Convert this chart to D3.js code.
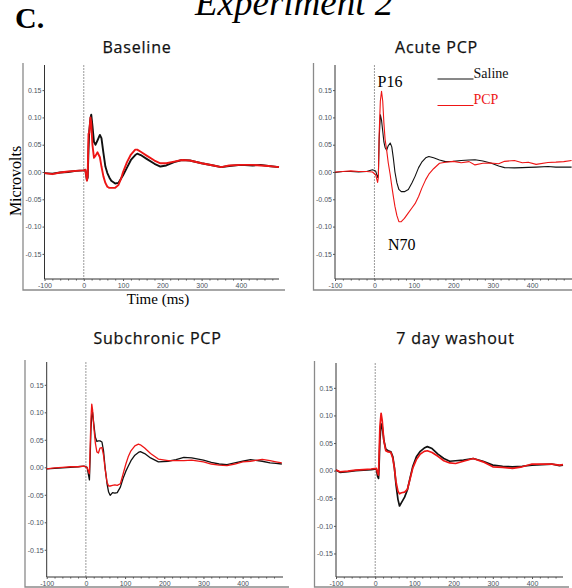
<!DOCTYPE html>
<html>
<head>
<meta charset="utf-8">
<style>
  body { margin: 0; background: #fff; }
  svg { display: block; }
</style>
</head>
<body>
<svg width="572" height="588"></svg>
<script src="https://cdn.jsdelivr.net/npm/d3@7"></script>
<script>

// ---- data (ms, microvolts) ----
var baselineTime   = [-100,-80,-60,-40,-20,0,4,8,10,12,14,17,19,22,26,30,35,41,45,50,55,60,65,70,80,88,95,100,110,120,131,136,145,160,180,195,210,230,250,270,300,330,350,370,400,430,450,470,497];
var baselineSaline = [-0.002,-0.003,-0.001,0,0.002,0.003,0.004,-0.015,-0.01,0.04,0.075,0.098,0.105,0.085,0.055,0.05,0.058,0.068,0.062,0.035,0.01,-0.002,-0.01,-0.016,-0.021,-0.02,-0.012,-0.006,0.008,0.022,0.031,0.0335,0.031,0.024,0.015,0.01,0.012,0.018,0.022,0.021,0.016,0.012,0.009,0.011,0.013,0.012,0.013,0.011,0.009];
var baselinePCP    = [-0.002,-0.004,-0.001,0.001,0.002,0.003,0.004,-0.016,-0.005,0.07,0.072,0.1,0.09,0.05,0.026,0.03,0.036,0.027,0.01,-0.008,-0.02,-0.027,-0.029,-0.029,-0.029,-0.024,-0.012,0,0.018,0.032,0.041,0.041,0.037,0.03,0.021,0.016,0.016,0.019,0.022,0.021,0.016,0.012,0.009,0.012,0.013,0.013,0.012,0.011,0.009];

var acuteTime   = [-100,-80,-60,-40,-20,-5,3,8,10,12,15,18,21,24,27,31,35,40,44,48,52,57,62,68,76,86,95,103,112,120,130,138,150,165,180,200,220,240,255,275,295,315,330,355,375,390,410,440,460,480,500];
var acuteSaline = [-0.001,0.001,0.001,0,0.001,0.004,0.002,-0.01,-0.005,0.06,0.105,0.095,0.075,0.055,0.045,0.04,0.048,0.053,0.046,0.025,0,-0.02,-0.032,-0.036,-0.036,-0.032,-0.02,-0.008,0.008,0.018,0.026,0.0285,0.026,0.022,0.019,0.0195,0.021,0.022,0.0225,0.02,0.0165,0.011,0.008,0.0075,0.008,0.0085,0.009,0.01,0.009,0.009,0.009];
var acutePCP    = [0,0.001,0.002,0.001,0.001,0,-0.005,-0.019,-0.01,0.07,0.13,0.148,0.13,0.09,0.06,0.04,0.017,-0.005,-0.026,-0.045,-0.063,-0.08,-0.091,-0.091,-0.085,-0.075,-0.066,-0.058,-0.045,-0.03,-0.014,-0.004,0.006,0.016,0.018,0.0195,0.017,0.019,0.013,0.016,0.0165,0.015,0.0195,0.021,0.017,0.018,0.014,0.0175,0.018,0.019,0.021];

var subTime   = [-100,-80,-60,-40,-20,-5,3,7,9,11,13,15,17,20,24,28,32,36,41,45,49,54,58,62,68,74,80,88,95,102,108,115,125,134,139,150,165,185,210,230,250,270,300,320,340,360,380,400,420,450,470,485,500];
var subSaline = [-0.003,-0.002,-0.001,0,0.001,0.002,0,-0.015,-0.023,0.02,0.07,0.095,0.1,0.08,0.055,0.047,0.048,0.048,0.046,0.03,0,-0.03,-0.045,-0.051,-0.046,-0.047,-0.046,-0.036,-0.02,-0.007,0.002,0.012,0.022,0.027,0.0285,0.025,0.017,0.01,0.011,0.014,0.018,0.017,0.013,0.009,0.006,0.005,0.008,0.011,0.014,0.011,0.008,0.007,0.006];
var subPCP    = [-0.003,-0.001,0,0.001,0.001,0.002,0,-0.008,-0.012,0.04,0.09,0.115,0.105,0.075,0.045,0.028,0.026,0.035,0.036,0.022,-0.003,-0.027,-0.034,-0.034,-0.033,-0.032,-0.033,-0.03,-0.012,0.006,0.019,0.03,0.039,0.042,0.041,0.035,0.025,0.015,0.012,0.012,0.012,0.013,0.01,0.006,0.004,0.003,0.006,0.01,0.011,0.0145,0.012,0.01,0.008];

var washTime   = [-100,-90,-70,-50,-30,-10,3,6,8.5,10,12,15,18,22,27,33,40,45,49,53,58,62,67,75,82,90,96,105,115,125,133,145,160,175,190,205,225,250,275,300,325,350,375,400,425,450,470,479];
var washSaline = [0.001,-0.003,-0.002,0,0.001,0.002,0.003,-0.01,-0.014,0.01,0.055,0.085,0.08,0.055,0.039,0.036,0.034,0.025,0.005,-0.025,-0.052,-0.064,-0.058,-0.048,-0.035,-0.01,0.008,0.025,0.035,0.041,0.0435,0.04,0.03,0.022,0.017,0.018,0.019,0.022,0.017,0.01,0.008,0.007,0.008,0.01,0.011,0.012,0.009,0.01];
var washPCP    = [0.001,-0.002,-0.001,0.001,0.002,0.003,0.004,-0.004,-0.008,0.03,0.08,0.104,0.09,0.055,0.036,0.034,0.033,0.022,0.004,-0.02,-0.037,-0.042,-0.04,-0.039,-0.034,-0.012,0.005,0.02,0.03,0.035,0.036,0.033,0.026,0.018,0.014,0.013,0.017,0.022,0.016,0.007,0.006,0.004,0.007,0.012,0.012,0.012,0.01,0.011];

var yTicks = [-0.15, -0.10, -0.05, 0, 0.05, 0.10, 0.15];
var xTicks = [-100, 0, 100, 200, 300, 400];

// ---- layout of the four panels ----
var panels = [
  {title: "Baseline", t: baselineTime, saline: baselineSaline, pcp: baselinePCP,
   left: 44.5, right: 279, top: 65, bottom: 279, tMax: 497, vMin: -0.196, vMax: 0.196,
   frameL: 23, frameB: 290, tx: 137, ty: 53, lw: 1.9},
  {title: "Acute PCP", t: acuteTime, saline: acuteSaline, pcp: acutePCP,
   left: 335, right: 572, top: 65, bottom: 279, tMax: 501, vMin: -0.196, vMax: 0.196,
   frameL: 313.5, frameB: 290, tx: 436.5, ty: 53, lw: 1.1},
  {title: "Subchronic PCP", t: subTime, saline: subSaline, pcp: subPCP,
   left: 46.7, right: 283, top: 362, bottom: 577, tMax: 503, vMin: -0.1995, vMax: 0.1915,
   frameL: 25, frameB: 587, tx: 157.5, ty: 343.5, lw: 1.3},
  {title: "7 day washout", t: washTime, saline: washSaline, pcp: washPCP,
   left: 336, right: 563, top: 363, bottom: 577, tMax: 479, vMin: -0.1926, vMax: 0.195,
   frameL: 314.5, frameB: 587, tx: 455.5, ty: 343.5, lw: 1.7}
];

var svg = d3.select("svg");

var red = "#ee1515", black = "#111";

panels.forEach(function(p) {
  var g = svg.append("g");
  var x = d3.scaleLinear().domain([-100, p.tMax]).range([p.left, p.right]);
  var y = d3.scaleLinear().domain([p.vMin, p.vMax]).range([p.bottom, p.top]);

  // gray outer frame (left + bottom)
  g.append("path")
      .attr("d", "M" + p.frameL + "," + (p.top - 2) + "V" + p.frameB + "H" + (p.right + 6))
      .attr("fill", "none")
      .attr("stroke", "#8a8a8a")
      .attr("stroke-width", 1.3);

  // stimulus onset
  g.append("line")
      .attr("x1", x(0)).attr("x2", x(0))
      .attr("y1", p.top).attr("y2", p.bottom)
      .attr("stroke", "#9a9a9a")
      .attr("stroke-width", 1)
      .attr("stroke-dasharray", "2,1");

  var yAxis = g.append("g")
      .attr("transform", "translate(" + p.left + ",0)")
      .call(d3.axisLeft(y).tickValues(yTicks).tickSize(2).tickPadding(1)
        .tickFormat(function(d) { return d.toFixed(2); }));
  yAxis.select(".domain").attr("d", "M0," + p.top + "V" + p.bottom).attr("stroke", "#333");

  var xAxis = g.append("g")
      .attr("transform", "translate(0," + p.bottom + ")")
      .call(d3.axisBottom(x).tickValues(xTicks).tickSize(2).tickPadding(2)
        .tickFormat(function(d) { return String(d); }));
  xAxis.select(".domain").attr("d", "M" + p.left + ",0H" + p.right).attr("stroke", "#333");

  // minor ticks on the time axis
  g.append("g")
      .attr("transform", "translate(0," + p.bottom + ")")
      .call(d3.axisBottom(x).tickValues(d3.range(-80, p.tMax, 20).filter(function(d) { return d % 100; }))
        .tickSize(1.5).tickFormat(""))
      .select(".domain").remove();

  g.selectAll(".tick text")
      .attr("font-family", "Arial, 'Liberation Sans', sans-serif")
      .attr("font-size", 7)
      .attr("fill", "#4a5360");
  g.selectAll(".tick line").attr("stroke", "#555");

  var line = d3.line()
      .x(function(d, i) { return x(p.t[i]); })
      .y(function(d) { return y(d); });

  g.append("path")
      .datum(p.saline)
      .attr("d", line)
      .attr("fill", "none")
      .attr("stroke", black)
      .attr("stroke-width", p.lw)
      .attr("stroke-linejoin", "round");

  g.append("path")
      .datum(p.pcp)
      .attr("d", line)
      .attr("fill", "none")
      .attr("stroke", red)
      .attr("stroke-width", p.lw)
      .attr("stroke-linejoin", "round");

  svg.append("text")
      .attr("x", p.tx).attr("y", p.ty)
      .attr("text-anchor", "middle")
      .attr("font-family", "'Open Sans', sans-serif")
      .attr("font-size", 16)
      .attr("letter-spacing", 0.8)
      .attr("fill", "#111")
      .attr("stroke", "#111")
      .attr("stroke-width", 0.25)
      .text(p.title);
});

// figure labels
var serif = "'Liberation Serif', 'Times New Roman', serif";

svg.append("text")
    .attr("x", 15).attr("y", 28)
    .attr("font-family", serif).attr("font-weight", "bold").attr("font-size", 30)
    .text("C.");

svg.append("text")
    .attr("x", 195).attr("y", 15)
    .attr("font-family", serif).attr("font-style", "italic").attr("font-size", 37)
    .text("Experiment 2");

svg.append("text")
    .attr("transform", "translate(20.5,181) rotate(-90)")
    .attr("text-anchor", "middle")
    .attr("font-family", serif).attr("font-size", 16)
    .text("Microvolts");

svg.append("text")
    .attr("x", 158).attr("y", 304)
    .attr("text-anchor", "middle")
    .attr("font-family", serif).attr("font-size", 15)
    .text("Time (ms)");

// component labels and legend in the Acute PCP panel
svg.append("text")
    .attr("x", 377.5).attr("y", 86.5)
    .attr("font-family", serif).attr("font-size", 16)
    .text("P16");

svg.append("text")
    .attr("x", 388).attr("y", 250)
    .attr("font-family", serif).attr("font-size", 16)
    .text("N70");

var legend = [{name: "Saline", color: black, y: 79}, {name: "PCP", color: red, y: 105.5}];
legend.forEach(function(l) {
  svg.append("line")
      .attr("x1", 437.5).attr("x2", 473.5)
      .attr("y1", l.y).attr("y2", l.y)
      .attr("stroke", l.color).attr("stroke-width", 1);
  svg.append("text")
      .attr("x", 473.5).attr("y", l.y - 1.5)
      .attr("font-family", serif).attr("font-size", 14)
      .attr("fill", l.color)
      .text(l.name);
});

</script>
</body>
</html>
